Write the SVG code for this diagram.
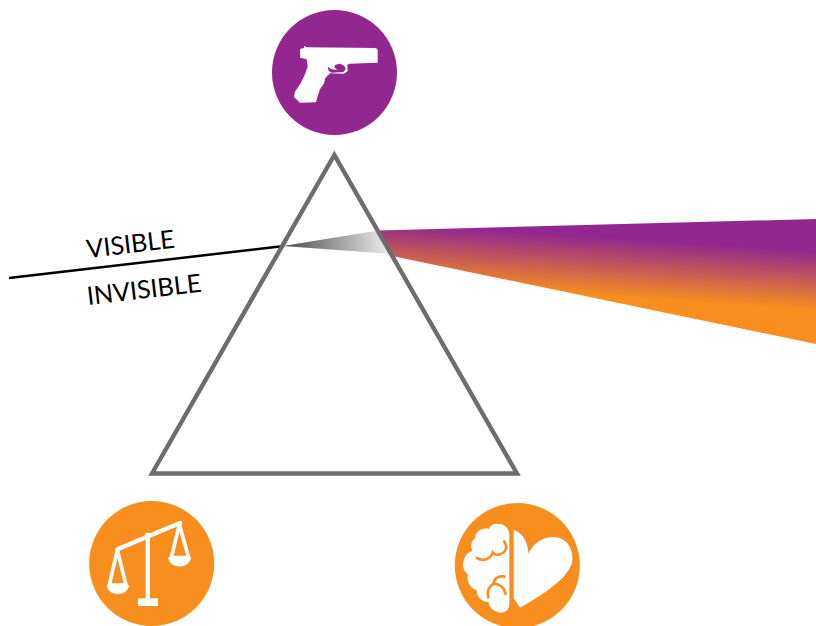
<svg xmlns="http://www.w3.org/2000/svg" width="816" height="626" viewBox="0 0 816 626">
<style>
.lbl{font-family:"Lato","Liberation Sans",sans-serif;font-size:25.2px;fill:#000}
.w{fill:#fff}
.os{fill:none;stroke:#f7901e;stroke-width:8;stroke-linecap:round}
</style>
<defs>
<linearGradient id="beam" gradientUnits="userSpaceOnUse" x1="816" y1="251" x2="812.2" y2="310">
<stop offset="0" stop-color="#92278f"/><stop offset="1" stop-color="#f78e1e"/>
</linearGradient>
<linearGradient id="gray" gradientUnits="userSpaceOnUse" x1="283" y1="246" x2="390" y2="242">
<stop offset="0" stop-color="#4a4a4a"/><stop offset="1" stop-color="#eeeeee"/>
</linearGradient>
</defs>
<g id="beam-rays">
<polygon points="378,230.5 816,219 816,344 392,256" fill="url(#beam)"/>
<polygon points="283,246 378,230.5 392,254" fill="url(#gray)"/>
</g>
<g id="connectors">
<line x1="9" y1="278" x2="284" y2="246" stroke="#000" stroke-width="2.5"/>
</g>
<g id="prism">
<polygon points="334.3,155 152,473.5 517,473.5" fill="none" stroke="#706b6c" stroke-width="4.4"/>
</g>
<g id="labels">
<text class="lbl" transform="translate(87.5,258) rotate(-6.7)">VISIBLE</text>
<text class="lbl" transform="translate(88,305) rotate(-6.7)">INVISIBLE</text>
</g>
<g id="node-gun">
<circle cx="334.5" cy="72.5" r="62.5" fill="#92278f"/>
<path class="w" transform="translate(290,40) scale(.3333)" d="M30,27 L42,24 L42,18 L50,22 L258,24 L263,30 L263,68 L178,71 L172,74 L173,94 L162,101 L120,100 L106,114 L102,130 L90,148 L84,165 L78,187 L30,188 L12,171 L15,155 L32,130 L44,105 L53,80 L50,58 L31,53 Z"/>
<path fill="#92278f" transform="translate(290,40) scale(.3333)" d="M113,80 L125,88 L142,90 L133,82 L136,74 L150,71 L164,78 L167,88 L160,96 L125,98 L116,92 Z"/>
</g>
<g id="node-scales">
<circle cx="151.7" cy="563.5" r="62.5" fill="#f78e1e"/>
<g transform="translate(80,495) scale(.3333)">
<path d="M112,163 L300,84" fill="none" stroke="#fff" stroke-width="13" stroke-linecap="round"/>
<rect x="197" y="118" width="13" height="195" class="w"/>
<circle cx="203" cy="122" r="9" class="w"/>
<rect x="174" y="310" width="60" height="23" class="w"/>
<path d="M112,165 L88,270 L138,270 Z M298,88 L274,188 L326,188 Z" fill="none" stroke="#fff" stroke-width="11" stroke-linejoin="round"/>
<path class="w" d="M80,270 L147,270 C146,306 82,306 80,270 Z M265,186 L333,186 C332,224 266,224 265,186 Z"/>
</g>
</g>
<g id="node-mind-heart">
<circle cx="517.3" cy="565.5" r="62.5" fill="#f78e1e"/>
<g transform="translate(450,495) scale(.3333)">
<path class="w" d="M178,122 C178,100 165,86 140,86 C128,86 120,92 117,102 C100,96 72,110 76,130 C60,138 62,160 68,168 C45,172 32,205 44,228 C50,236 52,238 54,238 C48,258 60,280 80,286 C78,306 98,322 116,322 C118,340 135,353 155,353 C172,352 178,340 178,325 Z"/>
<path class="w" d="M191,105 C215,112 232,135 236,176 C250,140 290,120 325,128 C360,136 372,175 366,205 C352,250 280,300 210,338 L191,310 Z"/>
</g>
<g transform="translate(465,520) scale(.3333)">
<path class="os" d="M118,65 C130,82 122,100 100,104 C92,105 86,102 83,98 C76,118 55,125 36,114"/>
<path class="os" d="M118,170 C100,166 87,176 85,192 C72,198 64,215 70,232 M85,192 C102,190 118,202 122,222"/>
</g>
</g>
</svg>
